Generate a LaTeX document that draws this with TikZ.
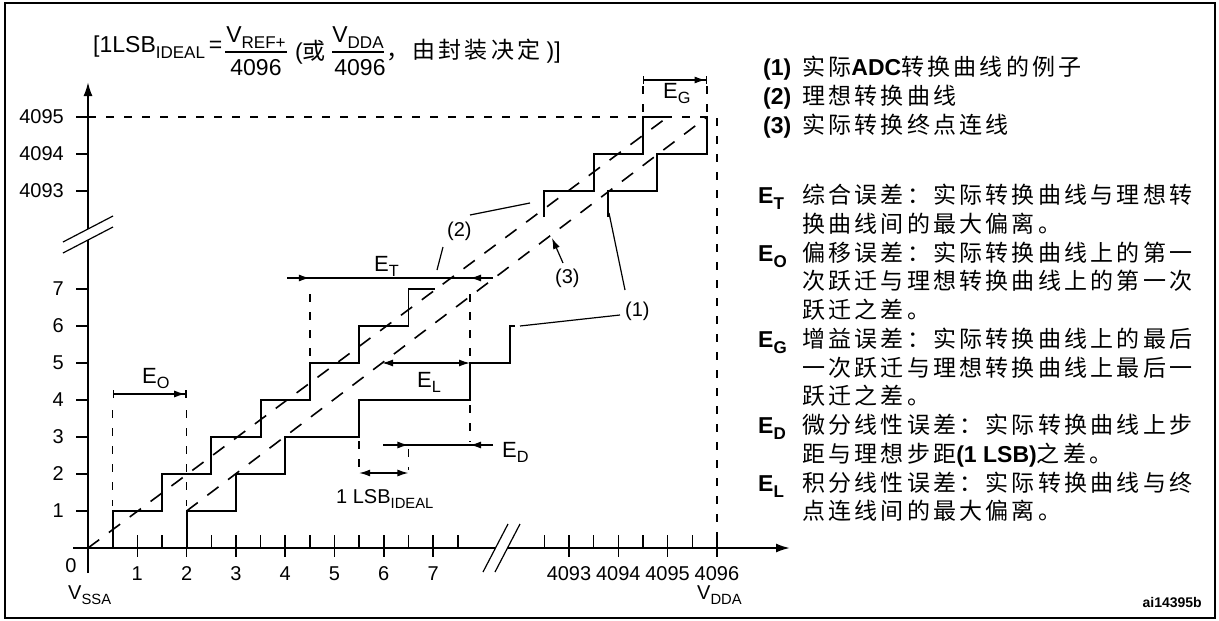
\documentclass[tikz,border=0pt]{standalone}
\usepackage{fontspec}
\usepackage{graphicx}
\setmainfont{Liberation Sans}
\newfontfamily\cjk[LetterSpace=14]{Noto Sans CJK SC}
\usetikzlibrary{arrows.meta}
\newcommand{\lsub}[1]{\raisebox{-0.27em}{\scalebox{0.74}{#1}}}
\newcommand{\lb}[1]{{\normalfont\bfseries #1}}
\newcommand{\fsz}[1]{\fontsize{#1}{#1}\selectfont}
\begin{document}
\begin{tikzpicture}[x=1pt,y=-1pt,
  ax/.style={line width=2pt},
  tick/.style={line width=1.5pt},
  stair/.style={line width=1.9pt},
  guide/.style={line width=1.4pt, dash pattern=on 8pt off 10pt},
  diag/.style={line width=1.6pt, dash pattern=on 14pt off 12pt},
  dim/.style={line width=1.4pt},
  lead/.style={line width=1.2pt},
  ar/.style={-{Latex[length=11pt,width=7pt]}},
  dar/.style={{Latex[length=11pt,width=7pt]}-{Latex[length=11pt,width=7pt]}},
  bar/.style={{Bar[width=8pt]}-{Latex[length=11pt,width=7pt]Bar[width=8pt]}},
  lbl/.style={font=\fsz{20}, inner sep=0pt},
  elbl/.style={font=\fsz{22}, inner sep=0pt, anchor=base west},
  ttl/.style={font=\fsz{23}, inner sep=0pt},
  rtx/.style={font=\fsz{23}\cjk, inner sep=0pt, anchor=base west},
  rlb/.style={font=\fsz{23}\bfseries, inner sep=0pt, anchor=base west}]
\useasboundingbox (0,0) rectangle (1219,621);
\draw[line width=2pt] (5,3) rectangle (1215,618);

% ---------- title ----------
\node[ttl, anchor=base west] (t1) at (93,52) {[1LSB\lsub{IDEAL}\,=};
\draw[line width=1.2pt] (225,52) -- (287,52);
\node[ttl, anchor=base] (t2) at (256,42) {V\lsub{REF+}};
\node[ttl, anchor=base] (t3) at (256,75) {4096};
\node[ttl, anchor=base west] (t4) at (295,59) {(\cjk 或};
\draw[line width=1.2pt] (332,52) -- (384,52);
\node[ttl, anchor=base] (t5) at (358,42) {V\lsub{DDA}};
\node[ttl, anchor=base] (t6) at (360,75) {4096};
\node[ttl, anchor=base west] (t7) at (386,58) {{\cjk ，由封装决定} )]};

% ---------- axes ----------
\draw[ax] (88,573) -- (88,240);
\draw[ax,-{Latex[length=14pt,width=9pt]}] (88,229) -- (88,82);
\draw[lead] (63,253) -- (113,227);
\draw[lead] (63,242) -- (113,216);
\draw[ax] (73,548) -- (495.5,548);
\draw[ax,-{Latex[length=14pt,width=9pt]}] (507.5,548) -- (790,548);
\draw[lead] (483,572) -- (508,524);
\draw[lead] (495,572) -- (520,524);

% y ticks
\foreach \yy/\tx in {511/1,474/2,437/3,400/4,363/5,326/6,289/7,191/4093,154/4094,117/4095}{
  \draw[tick] (76,\yy) -- (88,\yy);
  \node[lbl, anchor=east] (y\tx) at (64,\yy) {\tx};
}
% x ticks
\foreach \xx/\tx in {137.3/1,186.6/2,235.9/3,285.2/4,334.5/5,383.8/6,433.1/7,569/4093,618.3/4094,667.6/4095,716.9/4096}{
  \draw[tick] (\xx,535) -- (\xx,557);
  \node[lbl, anchor=base] (x\tx) at (\xx,580) {\tx};
}
\foreach \xx in {112.65,161.95,211.25,260.55,309.85,359.15,408.45,457.75,544.35,593.65,642.95,692.25}{
  \draw[tick] (\xx,535) -- (\xx,548);
}
\node[lbl, anchor=base] (x0) at (71,572) {0};
\node[lbl, anchor=base west] (vssa) at (68,599) {V\lsub{SSA}};
\node[lbl, anchor=base west] (vdda) at (697,599) {V\lsub{DDA}};

% ---------- guide dashed lines ----------
\draw[guide] (88,117) -- (716.9,117) -- (716.9,548);
\draw[guide] (112.65,410) -- (112.65,506);
\draw[guide] (186.6,410) -- (186.6,506);
\draw[guide] (309.85,294) -- (309.85,358);
\draw[guide] (470,294) -- (470,358);
\draw[guide] (470,405) -- (470,442);
\draw[guide] (359.15,441) -- (359.15,470);
\draw[guide] (408.45,449) -- (408.45,470);
\draw[guide] (642.95,86) -- (642.95,113);
\draw[guide] (707,86) -- (707,113);

% ---------- diagonals ----------
\coordinate (o) at (88,548);
\coordinate (i2) at (667.6,117);
\coordinate (a3) at (186.6,511);
\coordinate (b3) at (707,117);
\draw[diag] (o) -- (i2);
\draw[diag] (a3) -- (b3);

% ---------- staircases ----------
\draw[stair] (112.65,548) -- (112.65,511) -- (161.95,511) -- (161.95,474) -- (211.25,474) -- (211.25,437) -- (260.55,437) -- (260.55,400) -- (309.85,400) -- (309.85,363) -- (359.15,363) -- (359.15,326) -- (408.45,326) -- (408.45,289) -- (435,289);
\draw[stair] (544.35,217) -- (544.35,191) -- (593.65,191) -- (593.65,154) -- (642.95,154) -- (642.95,117) -- (667.6,117);
\draw[stair] (186.6,548) -- (186.6,511) -- (235.9,511) -- (235.9,474) -- (285.2,474) -- (285.2,437) -- (359.15,437) -- (359.15,400) -- (470,400) -- (470,363) -- (510,363) -- (510,326) -- (515,326);
\draw[stair] (608,217) -- (608,191) -- (657,191) -- (657,154) -- (707,154) -- (707,117);

% ---------- dimension arrows ----------
\draw[dim,bar] (112.65,394) -- (186.6,394);
\node[elbl] (eo) at (142,383) {E\lsub{O}};
\draw[dim] (287,278) -- (493,278);
\draw[dim,ar] (287,278) -- (309.85,278);
\draw[dim,ar] (493,278) -- (470,278);
\node[elbl] (et) at (374,271) {E\lsub{T}};
\draw[dim,dar] (382,363) -- (470,363);
\node[elbl] (el) at (417,387) {E\lsub{L}};
\draw[dim] (383,445) -- (493,445);
\draw[dim,ar] (383,445) -- (408.45,445);
\draw[dim,ar] (493,445) -- (470,445);
\node[elbl] (ed) at (502,457) {E\lsub{D}};
\draw[dim,dar] (359.15,473) -- (408.45,473);
\node[lbl, anchor=base west] (lsb) at (336,503) {1 LSB\lsub{IDEAL}};
\draw[dim,bar] (642.95,80) -- (707,80);
\node[elbl] (eg) at (663,98) {E\lsub{G}};

% ---------- leaders ----------
\node[lbl, anchor=base west] (n1) at (625,316) {(1)};
\node[lbl, anchor=base west] (n2) at (447,236) {(2)};
\node[lbl, anchor=base west] (n3) at (555,283) {(3)};
\draw[lead] (520,326) -- (620,315);
\draw[lead] (625,290) -- (609,213);
\draw[lead] (470,215) -- (530,203);
\draw[lead] (443,247) -- (437,270);
\draw[lead,ar] (563,263) -- (552,238);

% ---------- right-hand text ----------
\node[rlb] (r1) at (763,75.5) {(1)};
\node[rtx] (r1t) at (802,75.5) {实际\lb{ADC}转换曲线的例子};
\node[rlb] (r2) at (763,104.5) {(2)};
\node[rtx] (r2t) at (802,104.5) {理想转换曲线};
\node[rlb] (r3) at (763,133.5) {(3)};
\node[rtx] (r3t) at (802,133.5) {实际转换终点连线};

\node[rlb] (le1) at (758,203.5) {E\lsub{T}};
\node[rtx] (t01) at (802,203.5) {综合误差：实际转换曲线与理想转};
\node[rtx] (t02) at (802,232.25) {换曲线间的最大偏离。};
\node[rlb] (le2) at (758,261) {E\lsub{O}};
\node[rtx] (t03) at (802,261) {偏移误差：实际转换曲线上的第一};
\node[rtx] (t04) at (802,289.75) {次跃迁与理想转换曲线上的第一次};
\node[rtx] (t05) at (802,318.5) {跃迁之差。};
\node[rlb] (le3) at (758,347.25) {E\lsub{G}};
\node[rtx] (t06) at (802,347.25) {增益误差：实际转换曲线上的最后};
\node[rtx] (t07) at (802,376) {一次跃迁与理想转换曲线上最后一};
\node[rtx] (t08) at (802,404.75) {跃迁之差。};
\node[rlb] (le4) at (758,433.5) {E\lsub{D}};
\node[rtx] (t09) at (802,433.5) {微分线性误差：实际转换曲线上步};
\node[rtx] (t10) at (802,462.25) {距与理想步距\lb{(1 LSB)}之差。};
\node[rlb] (le5) at (758,491) {E\lsub{L}};
\node[rtx] (t11) at (802,491) {积分线性误差：实际转换曲线与终};
\node[rtx] (t12) at (802,519.75) {点连线间的最大偏离。};

\node[font=\fsz{14}\bfseries, inner sep=0pt, anchor=base east] (ai) at (1202,607) {ai14395b};
\end{tikzpicture}
\end{document}
